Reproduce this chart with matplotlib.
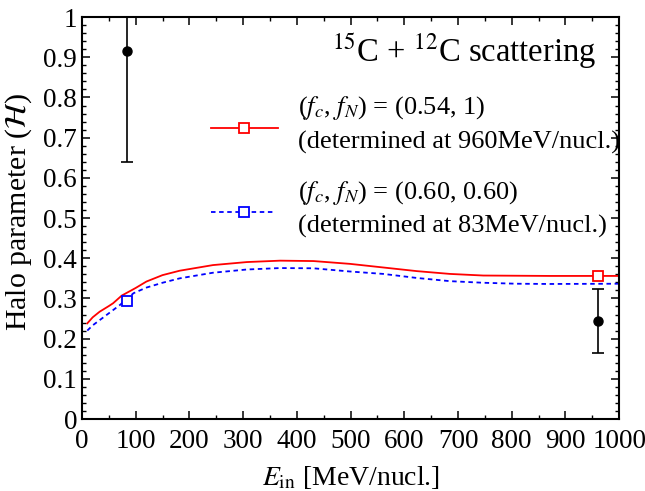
import numpy as np
import matplotlib
matplotlib.use("Agg")
import matplotlib.pyplot as plt
from matplotlib.ticker import MultipleLocator

plt.rcParams['font.family'] = 'Liberation Serif'
plt.rcParams['mathtext.fontset'] = 'stix'

# curve for (fc, fN) = (0.54, 1)
E_red = [10, 20, 33, 50, 58, 74, 100, 120, 150, 182, 244, 307, 369, 431, 499,
         561, 623, 685, 747, 809, 871, 1000]
H_red = [0.238, 0.253, 0.267, 0.281, 0.288, 0.307, 0.326, 0.342, 0.358, 0.369,
         0.383, 0.3905, 0.394, 0.393, 0.386, 0.377, 0.368, 0.361, 0.357,
         0.3565, 0.356, 0.356]

# curve for (fc, fN) = (0.60, 0.60)
E_blue = [10, 20, 33, 50, 71, 96, 120, 150, 182, 244, 307, 369, 431, 499, 561,
          623, 685, 747, 809, 871, 1000]
H_blue = [0.220, 0.233, 0.246, 0.263, 0.284, 0.313, 0.327, 0.339, 0.350, 0.364,
          0.372, 0.3756, 0.375, 0.367, 0.361, 0.351, 0.343, 0.339, 0.3366,
          0.336, 0.3366]

# fitted points
E_fit_red, H_fit_red = 960, 0.356
E_fit_blue, H_fit_blue = 83, 0.294

# experimental data
E_exp = [83, 960]
H_exp = [0.915, 0.244]
H_err = [0.275, 0.080]

ytick_labels = ['0', '0.1', '0.2', '0.3', '0.4', '0.5', '0.6', '0.7', '0.8', '0.9', '1']

fig = plt.figure(figsize=(6.45, 4.91), dpi=100)
ax = fig.add_axes([0.127, 0.1466, 0.833, 0.8186])

ax.plot(E_red, H_red, color='red', lw=1.3)
ax.plot(E_blue, H_blue, color='blue', lw=1.3, ls=(0, (2.5, 2)))
ax.plot([E_fit_red], [H_fit_red], 's', ms=7.5, mfc='white', mec='red', mew=1.3)
ax.plot([E_fit_blue], [H_fit_blue], 's', ms=7.5, mfc='white', mec='blue', mew=1.3)
ax.errorbar(E_exp, H_exp, yerr=H_err, fmt='o', color='black', ms=6.5,
            capsize=4, elinewidth=1.2, capthick=1.2)

ax.set_xlim(0, 1000)
ax.set_ylim(0, 1)
ax.xaxis.set_major_locator(MultipleLocator(100))
ax.xaxis.set_minor_locator(MultipleLocator(50))
ax.yaxis.set_minor_locator(MultipleLocator(0.02))
ax.set_yticks(np.arange(0, 1.01, 0.1))
ax.set_yticklabels(ytick_labels)
ax.tick_params(which='both', direction='in', top=True, right=True, labelsize=19.5)
ax.tick_params(which='major', length=6, width=1.1)
ax.tick_params(which='minor', length=3, width=1)
ax.tick_params(axis='x', pad=7)
for s in ax.spines.values():
    s.set_linewidth(1.5)

ax.set_xlabel(r'$E_{\rm in}$ [MeV/nucl.]', fontsize=20)
ax.set_ylabel(r'Halo parameter ($\mathcal{H}$)', fontsize=21.5)
ax.xaxis.set_label_coords(0.5, -0.113)
ax.yaxis.set_label_coords(-0.09, 0.515)

ax.text(0.957, 0.913, r'$^{15}$C + $^{12}$C scattering', transform=ax.transAxes,
        ha='right', va='center', fontsize=23.5)

# legend by hand
ax.plot([240, 365], [0.725, 0.725], color='red', lw=1.3)
ax.plot([301], [0.725], 's', ms=7.5, mfc='white', mec='red', mew=1.3)
ax.plot([240, 358], [0.516, 0.516], color='blue', lw=1.3, ls=(0, (2.5, 2)))
ax.plot([301], [0.516], 's', ms=7.5, mfc='white', mec='blue', mew=1.3)
ax.text(402, 0.774, r'($f_c$, $f_N$) = (0.54, 1)', fontsize=19, va='center')
ax.text(402, 0.687, '(determined at 960MeV/nucl.)', fontsize=19, va='center')
ax.text(402, 0.562, r'($f_c$, $f_N$) = (0.60, 0.60)', fontsize=19, va='center')
ax.text(402, 0.478, '(determined at 83MeV/nucl.)', fontsize=19, va='center')

fig.savefig('out.png', dpi=100)
